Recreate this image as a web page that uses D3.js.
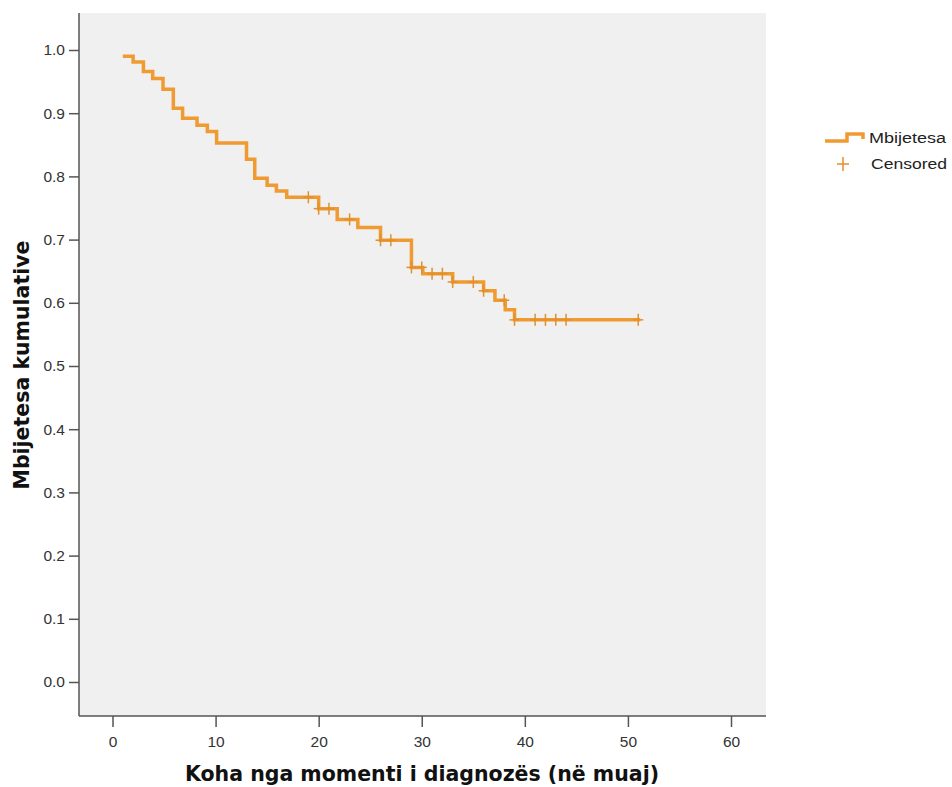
<!DOCTYPE html>
<html>
<head>
<meta charset="utf-8">
<script src="https://cdn.jsdelivr.net/npm/d3@7"></script>
<style>
  body { margin: 0; background: #fff; }
  svg { display: block; }
</style>
</head>
<body>
<div id="main"></div>
<script>
// Kaplan-Meier steps: time of each drop (months) and survival level after it
var startTime = 1.0;
var startLevel = 0.990;
var eventTimes = [2.0, 3.0, 3.9, 4.9, 5.9, 6.8, 8.2, 9.2, 10.1, 13.0, 13.8, 15.0, 15.9, 16.9,
                  20.0, 21.8, 23.8, 26.0, 29.0, 30.1, 33.0, 36.0, 37.1, 38.1, 39.0];
var survivalLevels = [0.981, 0.966, 0.955, 0.938, 0.908, 0.892, 0.881, 0.871, 0.853, 0.827, 0.797, 0.786, 0.777, 0.767,
                      0.749, 0.732, 0.719, 0.699, 0.656, 0.646, 0.633, 0.619, 0.604, 0.589, 0.573];
var endTime = 51.2;
var censoredTimes = [19.0, 20.0, 21.0, 23.0, 26.0, 27.0, 29.0, 30.0, 31.0, 32.0, 33.0, 35.0, 36.0,
                     38.0, 39.0, 41.0, 42.0, 43.0, 44.0, 51.0];
var xTicks = [0, 10, 20, 30, 40, 50, 60];
var yTicks = [0, 0.1, 0.2, 0.3, 0.4, 0.5, 0.6, 0.7, 0.8, 0.9, 1.0];

var seriesName = "Mbijetesa";
var censorName = "Censored";
var xTitle = "Koha nga momenti i diagnozës (në muaj)";
var yTitle = "Mbijetesa kumulative";

var curveColor = "#f09a32";
var censorColor = "#e0902c";

var width = 952, height = 787;
var plot = { left: 79, right: 766, top: 13, bottom: 716 };

var svg = d3.select("#main").append("svg")
    .attr("width", width)
    .attr("height", height);

var x = d3.scaleLinear().domain([0, 60]).range([112.5, 731]);
var y = d3.scaleLinear().domain([0, 1]).range([682, 50]);

// plot background
svg.append("rect")
    .attr("x", plot.left)
    .attr("y", plot.top)
    .attr("width", plot.right - plot.left)
    .attr("height", plot.bottom - plot.top)
    .attr("fill", "#f0f0f0");

// build step points
var points = [{ t: startTime, s: startLevel }];
eventTimes.forEach(function (t, i) {
    points.push({ t: t, s: survivalLevels[i] });
});
points.push({ t: endTime, s: survivalLevels[survivalLevels.length - 1] });

function levelAt(t) {
    var s = startLevel;
    for (var i = 0; i < eventTimes.length; i++) {
        if (eventTimes[i] <= t) s = survivalLevels[i];
    }
    return s;
}

svg.append("path")
    .datum(points)
    .attr("fill", "none")
    .attr("stroke", curveColor)
    .attr("stroke-width", 3.5)
    .attr("d", d3.line()
        .x(function (d) { return x(d.t); })
        .y(function (d) { return y(d.s); })
        .curve(d3.curveStepAfter));

// censored marks
var marks = svg.append("g");
censoredTimes.forEach(function (t) {
    var cx = x(t), cy = y(levelAt(t));
    marks.append("line")
        .attr("x1", cx - 5).attr("x2", cx + 5)
        .attr("y1", cy).attr("y2", cy)
        .attr("stroke", censorColor).attr("stroke-width", 1.5);
    marks.append("line")
        .attr("x1", cx).attr("x2", cx)
        .attr("y1", cy - 6).attr("y2", cy + 6)
        .attr("stroke", censorColor).attr("stroke-width", 1.5);
});

// axes
var xAxis = d3.axisBottom(x).tickValues(xTicks).tickSize(11).tickPadding(9)
    .tickFormat(d3.format("d"));
var gx = svg.append("g")
    .attr("transform", "translate(0," + plot.bottom + ")")
    .call(xAxis);
gx.select(".domain").remove();
gx.append("line")
    .attr("x1", plot.left).attr("x2", plot.right)
    .attr("stroke", "#555").attr("stroke-width", 1.5);

var yAxis = d3.axisLeft(y).tickValues(yTicks).tickSize(10).tickPadding(4)
    .tickFormat(d3.format(".1f"));
var gy = svg.append("g")
    .attr("transform", "translate(" + plot.left + ",0)")
    .call(yAxis);
gy.select(".domain").remove();
gy.append("line")
    .attr("y1", plot.top).attr("y2", plot.bottom)
    .attr("stroke", "#555").attr("stroke-width", 1.5);

svg.selectAll(".tick line").attr("stroke", "#555").attr("stroke-width", 1.5);
svg.selectAll(".tick text")
    .attr("fill", "#333")
    .attr("font-family", "Liberation Sans, Arial, sans-serif")
    .attr("font-size", 15.5);

// axis titles
svg.append("text")
    .attr("x", 422)
    .attr("y", 781)
    .attr("text-anchor", "middle")
    .attr("font-family", "DejaVu Sans, sans-serif")
    .attr("font-weight", "bold")
    .attr("font-size", 20.5)
    .attr("fill", "#111")
    .text(xTitle);

svg.append("text")
    .attr("transform", "translate(29,365) rotate(-90)")
    .attr("text-anchor", "middle")
    .attr("font-family", "DejaVu Sans, sans-serif")
    .attr("font-weight", "bold")
    .attr("font-size", 20.5)
    .attr("fill", "#111")
    .text(yTitle);

// legend
var legend = svg.append("g");
legend.append("path")
    .attr("d", "M825,141 H847 V134 H863 V139")
    .attr("fill", "none")
    .attr("stroke", curveColor)
    .attr("stroke-width", 3.5);
legend.append("text")
    .attr("x", 869).attr("y", 143)
    .attr("font-family", "Liberation Sans, Arial, sans-serif")
    .attr("font-size", 14)
    .attr("textLength", 77)
    .attr("lengthAdjust", "spacingAndGlyphs")
    .attr("fill", "#222")
    .text(seriesName);
legend.append("line")
    .attr("x1", 837).attr("x2", 849).attr("y1", 164).attr("y2", 164)
    .attr("stroke", censorColor).attr("stroke-width", 1.5);
legend.append("line")
    .attr("x1", 843).attr("x2", 843).attr("y1", 157).attr("y2", 171)
    .attr("stroke", censorColor).attr("stroke-width", 1.5);
legend.append("text")
    .attr("x", 871).attr("y", 169)
    .attr("font-family", "Liberation Sans, Arial, sans-serif")
    .attr("font-size", 14)
    .attr("textLength", 76)
    .attr("lengthAdjust", "spacingAndGlyphs")
    .attr("fill", "#222")
    .text(censorName);
</script>
</body>
</html>
